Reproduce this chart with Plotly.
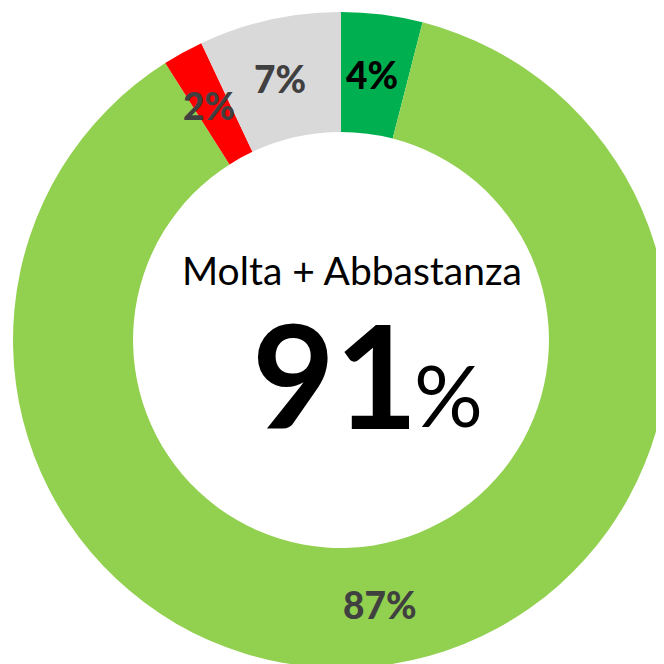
import math
import plotly.graph_objects as go

categories = ["Molta", "Abbastanza", "Poca", "Non sa"]
values = [4, 87, 2, 7]
slice_colors = ["#00B050", "#92D050", "#FF0000", "#D9D9D9"]
label_colors = ["#000000", "#404040", "#404040", "#404040"]
center_title = "Molta + Abbastanza"
center_value = "91"
center_unit = "%"

W = H = 672
FONT = "Lato, 'Open Sans', sans-serif"
OFF = 8  # page body margin
HOLE = 0.634

def px_x(p):
    return (p - OFF) / W

def px_y(p):
    return 1 - (p - OFF) / H

dom_x = [px_x(13), px_x(669)]
dom_y = [px_y(668), px_y(12)]

fig = go.Figure(go.Pie(
    labels=categories,
    values=values,
    sort=False,
    direction="clockwise",
    rotation=0,
    hole=HOLE,
    marker=dict(colors=slice_colors, line=dict(width=0)),
    textinfo="none",
    domain=dict(x=dom_x, y=dom_y),
    showlegend=False,
    hoverinfo="label+percent",
))

# percentage labels placed at the middle of the ring, derived from the data
total = sum(values)
cx = (dom_x[0] + dom_x[1]) / 2
cy = (dom_y[0] + dom_y[1]) / 2
rx = (dom_x[1] - dom_x[0]) / 2
ry = (dom_y[1] - dom_y[0]) / 2
rmid = (1 + HOLE) / 2
cum = 0
for v, col in zip(values, label_colors):
    frac = v / total
    ang = 2 * math.pi * (cum + frac / 2)
    cum += frac
    fig.add_annotation(
        text="%d%%" % round(frac * 100),
        x=cx + rmid * rx * math.sin(ang) - 0.004, y=cy + rmid * ry * math.cos(ang),
        xref="paper", yref="paper", showarrow=False,
        font=dict(family=FONT, size=37, color=col, weight=900),
        xanchor="center", yanchor="middle",
    )

fig.add_annotation(text=center_title, x=px_x(352), y=px_y(270), xref="paper", yref="paper",
                   showarrow=False, font=dict(family=FONT, size=39, color="#000000"),
                   xanchor="center", yanchor="middle")
fig.add_annotation(text="<b>" + center_value + "</b>", x=px_x(335), y=px_y(373), xref="paper", yref="paper",
                   showarrow=False, font=dict(family=FONT, size=143, color="#000000"),
                   xanchor="center", yanchor="middle")
fig.add_annotation(text=center_unit, x=px_x(448), y=px_y(393), xref="paper", yref="paper",
                   showarrow=False, font=dict(family=FONT, size=86, color="#000000"),
                   xanchor="center", yanchor="middle")

fig.update_layout(
    width=W, height=H,
    margin=dict(l=0, r=0, t=0, b=0),
    paper_bgcolor="white",
    plot_bgcolor="white",
)

fig.write_html("out.html")
